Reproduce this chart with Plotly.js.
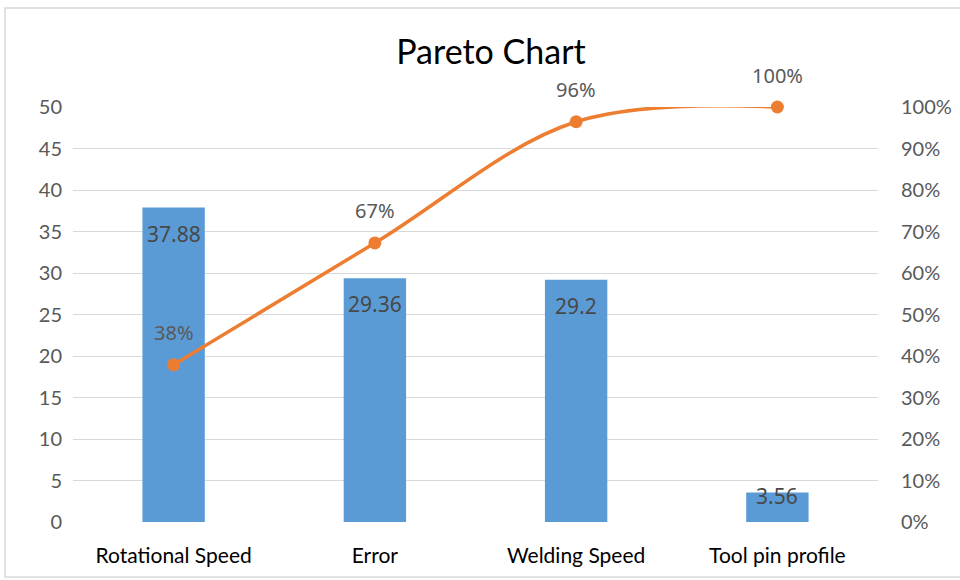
<!DOCTYPE html>
<html>
<head>
<meta charset="utf-8">
<script src="https://cdn.plot.ly/plotly-3.0.1.min.js"></script>
<style>html,body{margin:0;padding:0;background:#fff;}#chart{width:960px;height:580px;}</style>
</head>
<body>
<div id="chart"></div>
<script>
const categories = ["Rotational Speed", "Error", "Welding Speed", "Tool pin profile"];
const values = [37.88, 29.36, 29.2, 3.56];
const cumulative = [0.3788, 0.6724, 0.9644, 1.0];
const leftTicks = [0, 5, 10, 15, 20, 25, 30, 35, 40, 45, 50];
const rightTicks = [0, 0.1, 0.2, 0.3, 0.4, 0.5, 0.6, 0.7, 0.8, 0.9, 1.0];

const plotTop = 107, plotBottom = 522, plotLeft = 73, plotRight = 878;
const plotH = plotBottom - plotTop, plotW = plotRight - plotLeft;

const barTrace = {
  type: 'bar', x: categories, y: values, yaxis: 'y',
  marker: {color: '#5B9BD5'}, width: 0.31, hoverinfo: 'skip', showlegend: false
};
const lineTrace = {
  type: 'scatter', mode: 'lines+markers', x: categories, y: cumulative, yaxis: 'y2',
  line: {color: '#ED7D31', width: 3.5, shape: 'spline', smoothing: 1},
  marker: {color: '#ED7D31', size: 13}, hoverinfo: 'skip', showlegend: false,
  cliponaxis: false
};

const annotations = [];
values.forEach((v, i) => {
  const px = v / 50 * plotH;
  const small = px < 40;
  annotations.push({
    x: categories[i], y: v, xref: 'x', yref: 'y', text: String(v), showarrow: false,
    yanchor: small ? 'middle' : 'top', yshift: small ? -4 : -10,
    font: {family: 'Noto Sans, Open Sans, sans-serif', size: 21, color: '#484848'}
  });
});
cumulative.forEach((c, i) => {
  annotations.push({
    x: categories[i], y: c, xref: 'x', yref: 'y2', text: Math.round(c * 100) + '%', showarrow: false,
    yanchor: 'middle', yshift: 32,
    font: {family: 'Noto Sans, Open Sans, sans-serif', size: 20, color: '#595959'}
  });
});

const layout = {
  width: 960, height: 580,
  margin: {l: plotLeft, r: 960 - plotRight, t: plotTop, b: 580 - plotBottom, pad: 0},
  paper_bgcolor: '#ffffff', plot_bgcolor: '#ffffff',
  font: {family: 'Lato, sans-serif', color: '#595959'},
  title: {text: 'Pareto Chart', font: {family: 'Lato, sans-serif', size: 34, color: '#000000'},
          x: 491 / 960, xanchor: 'center', y: 1 - 52 / 580, yanchor: 'middle'},
  showlegend: false,
  bargap: 0.69,
  xaxis: {
    type: 'category', showgrid: false, zeroline: false, showline: false, ticks: '',
    tickfont: {family: 'Lato, sans-serif', size: 21, color: '#000000'},
    ticklabelstandoff: 19, fixedrange: true
  },
  yaxis: {
    range: [0, 50], tickvals: leftTicks, ticktext: leftTicks.map(String),
    showgrid: true, gridcolor: '#D9D9D9', gridwidth: 1, zeroline: false, showline: false, ticks: '',
    tickfont: {family: 'Lato, sans-serif', size: 20, color: '#595959'},
    ticklabelstandoff: 10, fixedrange: true
  },
  yaxis2: {
    range: [0, 1], overlaying: 'y', side: 'right', tickvals: rightTicks,
    ticktext: rightTicks.map(t => Math.round(t * 100) + '%'),
    showgrid: false, zeroline: false, showline: false, ticks: '',
    tickfont: {family: 'Lato, sans-serif', size: 20, color: '#595959'},
    ticklabelstandoff: 22, fixedrange: true
  },
  annotations: annotations,
  shapes: [{
    type: 'rect', xref: 'paper', yref: 'paper',
    x0: (5 - plotLeft) / plotW, x1: (965 - plotLeft) / plotW,
    y0: (plotBottom - 577) / plotH, y1: (plotBottom - 8) / plotH,
    line: {color: '#D9D9D9', width: 1.5}, fillcolor: 'rgba(0,0,0,0)', layer: 'below'
  }]
};

Plotly.newPlot('chart', [barTrace, lineTrace], layout, {displayModeBar: false, staticPlot: true});
</script>
</body>
</html>
